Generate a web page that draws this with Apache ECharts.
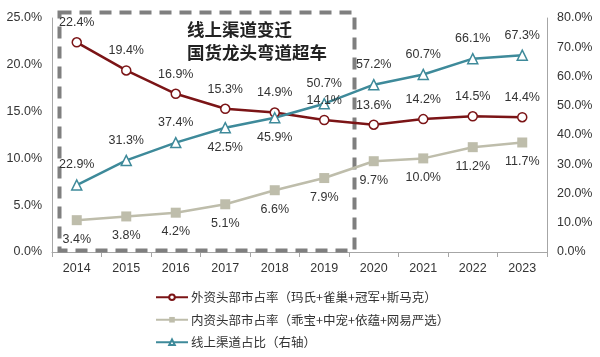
<!DOCTYPE html>
<html><head><meta charset="utf-8">
<script src="https://cdn.jsdelivr.net/npm/echarts@6/dist/echarts.min.js"></script>
<style>html,body{margin:0;padding:0;background:#fff}#c{width:600px;height:357px}</style>
</head><body><div id="c"></div>
<script>
var years = ['2014','2015','2016','2017','2018','2019','2020','2021','2022','2023'];
var foreignShare = [22.4, 19.4, 16.9, 15.3, 14.9, 14.1, 13.6, 14.2, 14.5, 14.4];
var domesticShare = [3.4, 3.8, 4.2, 5.1, 6.6, 7.9, 9.7, 10.0, 11.2, 11.7];
var onlineShare = [22.9, 31.3, 37.4, 42.5, 45.9, 50.7, 57.2, 60.7, 66.1, 67.3];
var onlineLabelPos = ['top','top','top','bottom','bottom','top','top','top','top','top'];
var leftTicks = [0,5,10,15,20,25];
var rightTicks = [0,10,20,30,40,50,60,70,80];

var FONT = '"Liberation Sans", Arial, "Noto Sans CJK SC", sans-serif';
var chart = echarts.init(document.getElementById('c'));
function pct(v){return v.toFixed(1)+'%';}
var lblStyle = {fontSize:12.5, color:'#333', fontFamily:FONT, formatter:function(p){return pct(p.value);}};

chart.setOption({
  animation:false,
  textStyle:{fontFamily:FONT},
  grid:{left:52, right:53, top:18, bottom:105},
  legend:{
    orient:'vertical', left:150, top:286, itemGap:10, itemWidth:32, itemHeight:7,
    textStyle:{fontSize:12.5, color:'#333', fontFamily:'"Noto Sans CJK SC", sans-serif', padding:[0,0,0,-2]},
    data:['外资头部市占率（玛氏+雀巢+冠军+斯马克）','内资头部市占率（乖宝+中宠+依蕴+网易严选）','线上渠道占比（右轴）']
  },
  xAxis:{
    type:'category', data:years, boundaryGap:true,
    axisLine:{lineStyle:{color:'#A6A6A6'}},
    axisTick:{show:true, interval:0, length:5, lineStyle:{color:'#A6A6A6'}},
    axisLabel:{fontSize:12.5, color:'#333', margin:10}
  },
  yAxis:[
    {type:'value', min:0, max:25, interval:5, position:'left',
     axisLine:{show:true, lineStyle:{color:'#A6A6A6'}}, axisTick:{show:false},
     splitLine:{show:false},
     axisLabel:{fontSize:12.5, color:'#333', margin:10, formatter:function(v){return v.toFixed(1)+'%';}}},
    {type:'value', min:0, max:80, interval:10, position:'right',
     axisLine:{show:true, lineStyle:{color:'#A6A6A6'}}, axisTick:{show:false},
     splitLine:{show:false},
     axisLabel:{fontSize:12.5, color:'#333', margin:10, formatter:function(v){return v.toFixed(1)+'%';}}}
  ],
  graphic:[
    {type:'rect', left:57, top:10, shape:{width:295, height:238},
     style:{fill:'none', stroke:'#7F7F7F', lineWidth:4, lineDash:[12,8]}, z:1},
    {type:'text', left:187, top:21, style:{text:'线上渠道变迁', font:'bold 17.5px "Noto Sans CJK SC"', fill:'#222'}},
    {type:'text', left:187, top:44, style:{text:'国货龙头弯道超车', font:'bold 17.5px "Noto Sans CJK SC"', fill:'#222'}}
  ],
  series:[
    {name:'外资头部市占率（玛氏+雀巢+冠军+斯马克）', type:'line', yAxisIndex:0, data:foreignShare,
     symbol:'circle', symbolSize:9, itemStyle:{color:'#FFFFFF', borderColor:'#7B1416', borderWidth:1.5},
     lineStyle:{color:'#7B1416', width:2.5},
     label:Object.assign({show:true, position:'top', distance:8}, lblStyle), z:3},
    {name:'内资头部市占率（乖宝+中宠+依蕴+网易严选）', type:'line', yAxisIndex:0, data:domesticShare,
     symbol:'rect', symbolSize:10, itemStyle:{color:'#BEBDAB'},
     lineStyle:{color:'#BEBDAB', width:2.5},
     label:Object.assign({show:true, position:'bottom', distance:8}, lblStyle), z:3},
    {name:'线上渠道占比（右轴）', type:'line', yAxisIndex:1,
     data:onlineShare.map(function(v,i){return {value:v, label:{position:onlineLabelPos[i]}};}),
     symbol:'triangle', symbolSize:10, itemStyle:{color:'#FFFFFF', borderColor:'#3E8A9A', borderWidth:1.5},
     lineStyle:{color:'#3E8A9A', width:2.5},
     label:Object.assign({show:true, position:'top', distance:8}, lblStyle), z:3}
  ]
});
</script></body></html>
